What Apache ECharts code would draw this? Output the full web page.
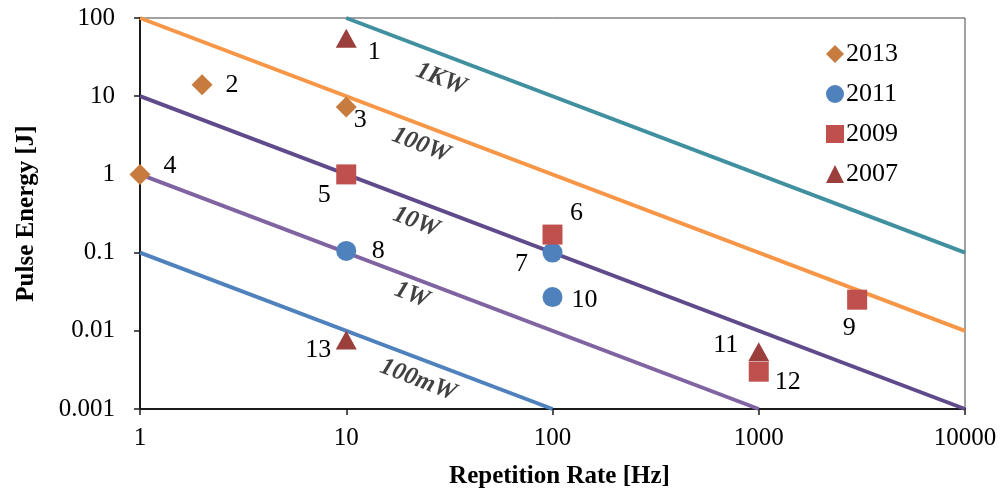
<!DOCTYPE html>
<html>
<head>
<meta charset="utf-8">
<script src="https://cdn.jsdelivr.net/npm/echarts@6/dist/echarts.min.js"></script>
<style>
html,body{margin:0;padding:0;background:#fff;}
#chart{width:1003px;height:497px;}
</style>
</head>
<body>
<div id="chart"></div>
<script>
// ---- data ----
var xTicks = [1, 10, 100, 1000, 10000];
var yTicks = [0.001, 0.01, 0.1, 1, 10, 100];

var powerNames = ['1KW', '100W', '10W', '1W', '100mW'];
var line1KW   = [[10, 100], [10000, 0.1]];
var line100W  = [[1, 100], [10000, 0.01]];
var line10W   = [[1, 10], [10000, 0.001]];
var line1W    = [[1, 1], [1000, 0.001]];
var line100mW = [[1, 0.1], [100, 0.001]];
var powerLabelAnchors = [[28.8, 16.6], [23.0, 2.38], [21.8, 0.246], [20.8, 0.0287], [22.3, 0.00235]];

var yearNames = ['2013', '2011', '2009', '2007'];
var pts2013 = [[2, 14, '2'], [10, 7.3, '3'], [1, 1, '4']];
var pts2011 = [[10, 0.105, '8'], [100, 0.1, '7'], [100, 0.027, '10']];
var pts2009 = [[10, 1, '5'], [100, 0.17, '6'], [3000, 0.025, '9'], [1000, 0.003, '12']];
var pts2007 = [[10, 55, '1'], [1000, 0.0054, '11'], [10, 0.0076, '13']];

// ---- styles ----
var labelOffsets = {
  '1': [28, 14], '2': [30, 0], '3': [14, 13], '4': [30, -8], '5': [-22, 21],
  '6': [24, -21], '7': [-31, 12], '8': [32, 0], '9': [-8, 28], '10': [32, 3],
  '11': [-33, -7], '12': [29, 10], '13': [-28, 10]
};
var lineColors = ['#40909f', '#f79646', '#5f4b8b', '#8064a2', '#4f81bd'];
var yearColors = ['#c77b3e', '#4f81bd', '#c0504d', '#9b3f3c'];
var yearSymbols = ['diamond', 'circle', 'rect', 'triangle'];
var yearSizes = [[21, 21], [20, 20], [20, 20], [21, 19]];
var FONT = '"Liberation Serif", "Times New Roman", serif';

var lineData = [line1KW, line100W, line10W, line1W, line100mW];
var series = [];
lineData.forEach(function (d, i) {
  series.push({
    name: powerNames[i], type: 'line', data: d, symbol: 'none', silent: true,
    lineStyle: { color: lineColors[i], width: 4 }, z: 2, clip: true
  });
});
series.push({
  name: 'powerLabels', type: 'scatter', symbolSize: 0, silent: true, z: 3,
  data: powerLabelAnchors.map(function (p, i) {
    return { value: p, label: { formatter: powerNames[i] } };
  }),
  label: {
    show: true, position: 'inside', rotate: -21,
    fontFamily: FONT, fontSize: 25, fontWeight: 'bold', fontStyle: 'italic', color: '#111'
  }
});
var ptsAll = [pts2013, pts2011, pts2009, pts2007];
ptsAll.forEach(function (pts, i) {
  series.push({
    name: yearNames[i], type: 'scatter', symbol: yearSymbols[i], symbolSize: yearSizes[i], z: 5,
    itemStyle: { color: yearColors[i], opacity: 1 },
    data: pts.map(function (p) {
      return {
        value: [p[0], p[1]],
        label: { show: true, formatter: p[2], position: 'inside', offset: labelOffsets[p[2]] }
      };
    }),
    label: { show: true, fontFamily: FONT, fontSize: 26, color: '#000' }
  });
});

var chart = echarts.init(document.getElementById('chart'), null, { renderer: 'canvas' });
chart.setOption({
  animation: false,
  backgroundColor: '#fff',
  textStyle: { fontFamily: FONT },
  grid: { left: 140, right: 38, top: 18, bottom: 88, show: true, borderColor: '#444', borderWidth: 1 },
  legend: {
    data: yearNames.map(function (n, i) { return { name: n, icon: yearSymbols[i] }; }),
    orient: 'vertical', left: 821, top: 36, itemWidth: 18, itemHeight: 18, itemGap: 14,
    textStyle: { fontFamily: FONT, fontSize: 26, color: '#000', padding: [0, 0, 0, -3] }
  },
  xAxis: {
    type: 'log', logBase: 10, min: xTicks[0], max: xTicks[xTicks.length - 1],
    name: 'Repetition Rate [Hz]', nameLocation: 'middle', nameGap: 55,
    nameTextStyle: { fontFamily: FONT, fontSize: 25, fontWeight: 'bold', color: '#000', padding: [0, 0, 0, 14] },
    axisLine: { show: true, lineStyle: { color: '#1a1a1a', width: 2 } },
    axisTick: { show: true, inside: false, length: 6, lineStyle: { color: '#1a1a1a', width: 1.5 } },
    minorTick: { show: false }, splitLine: { show: false },
    axisLabel: { fontFamily: FONT, fontSize: 25, color: '#000', margin: 17,
      formatter: function (v) { return String(Math.round(v)); } }
  },
  yAxis: {
    type: 'log', logBase: 10, min: yTicks[0], max: yTicks[yTicks.length - 1],
    name: 'Pulse Energy [J]', nameLocation: 'middle', nameGap: 101,
    nameTextStyle: { fontFamily: FONT, fontSize: 25, fontWeight: 'bold', color: '#000' },
    axisLine: { show: true, lineStyle: { color: '#1a1a1a', width: 2 } },
    axisTick: { show: true, inside: false, length: 6, lineStyle: { color: '#1a1a1a', width: 1.5 } },
    minorTick: { show: false }, splitLine: { show: false },
    axisLabel: { fontFamily: FONT, fontSize: 25, color: '#000', margin: 25,
      formatter: function (v) {
        var best = yTicks.reduce(function (a, b) { return Math.abs(Math.log10(b) - Math.log10(v)) < Math.abs(Math.log10(a) - Math.log10(v)) ? b : a; });
        return String(best);
      } }
  },
  series: series
});
</script>
</body>
</html>
